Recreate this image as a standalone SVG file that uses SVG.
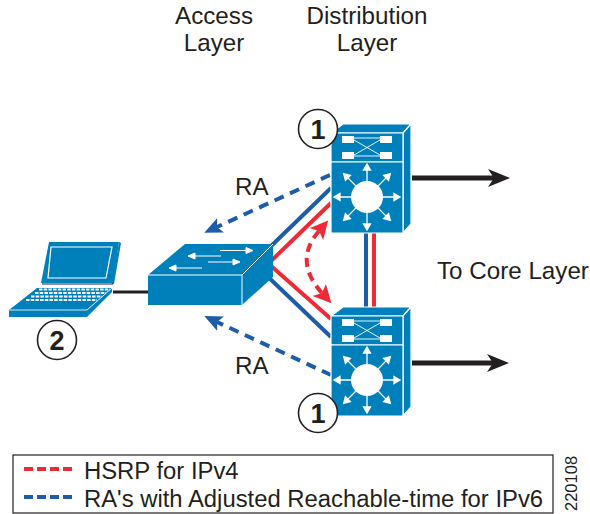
<svg xmlns="http://www.w3.org/2000/svg" xmlns:xlink="http://www.w3.org/1999/xlink" width="590" height="514" viewBox="0 0 590 514">
<style>
text{font-family:"Liberation Sans",Arial,sans-serif;fill:#231f20}
.t{font-size:24.2px}
.l{font-size:23.85px}
.m{text-anchor:middle}
.num{font-size:27px;font-weight:bold;text-anchor:middle}
.c{fill:#fff;stroke:#231f20;stroke-width:1.6}
.b{fill:#0080bb}
.e{stroke:#fff;stroke-width:1.2;stroke-linejoin:round}
.wf{fill:#fff}
.blue{stroke:#1f5ca8;stroke-width:4;fill:none}
.red{stroke:#ee2a36;stroke-width:4;fill:none}
.bd{stroke:#1f5ca8;stroke-width:4;fill:none;stroke-dasharray:10 7}
.rd{stroke:#ee2a36;stroke-width:4;fill:none;stroke-dasharray:9 6}
.k{stroke:#231f20;stroke-width:5;fill:none}
</style>
<defs>
<marker id="bh" markerUnits="userSpaceOnUse" markerWidth="20" markerHeight="18" refX="4" refY="8" orient="auto"><path d="M0 0L18 8L0 16L4 8Z" fill="#1f5ca8"/></marker>
<marker id="rh" markerUnits="userSpaceOnUse" markerWidth="20" markerHeight="20" refX="4" refY="9" orient="auto-start-reverse"><path d="M0 0L18 9L0 18L4 9Z" fill="#ee2a36"/></marker>
<marker id="kh" markerUnits="userSpaceOnUse" markerWidth="24" markerHeight="20" refX="6" refY="10" orient="auto"><path d="M0 1L22 10L0 19L6 10Z" fill="#231f20"/></marker>
<path id="sp" d="M16 0H27M27 -3.500L33 0L27 3.500Z" stroke="#fff" stroke-width="1.300" fill="#fff"/>
<g id="router">
<path class="b e" d="M0 9L12 0H80L72 9Z"/>
<path class="b e" d="M72 9L80 0V100L72 109Z"/>
<rect class="b e" x="0" y="9" width="72" height="29"/>
<rect class="b e" x="0" y="38" width="72" height="71"/>
<rect class="wf" x="11" y="12" width="12" height="7"/><rect class="wf" x="49" y="12" width="12" height="7"/>
<rect class="wf" x="11" y="28" width="12" height="7"/><rect class="wf" x="49" y="28" width="12" height="7"/>
<path d="M23 14H49M23 32H49M23 16L49 31M23 31L49 16" stroke="#fff" stroke-width="0.900" fill="none"/>
<g transform="translate(36,73)">
<circle r="16" class="wf"/>
<use xlink:href="#sp"/>
<use xlink:href="#sp" transform="rotate(45)"/>
<use xlink:href="#sp" transform="rotate(90)"/>
<use xlink:href="#sp" transform="rotate(135)"/>
<use xlink:href="#sp" transform="rotate(180)"/>
<use xlink:href="#sp" transform="rotate(225)"/>
<use xlink:href="#sp" transform="rotate(270)"/>
<use xlink:href="#sp" transform="rotate(315)"/>
</g>
</g>
</defs>
<g id="connectors">
<path d="M113 292H148" stroke="#231f20" stroke-width="3" fill="none"/>
<path class="blue" d="M268 249L331 188"/>
<path class="red" d="M270 262L331 203"/>
<path class="red" d="M270 265L331 319"/>
<path class="blue" d="M265 274L331 337"/>
<path class="blue" d="M366 233V308"/>
<path class="red" d="M374 233V308"/>
<path class="bd" d="M330 175L217 227" marker-end="url(#bh)"/>
<path class="bd" d="M331 375L217 322" marker-end="url(#bh)"/>
<path class="rd" d="M319 231Q293 261 322 293" marker-start="url(#rh)" marker-end="url(#rh)"/>
<path class="k" d="M412 178H494" marker-end="url(#kh)"/>
<path class="k" d="M412 363H493" marker-end="url(#kh)"/>
</g>
<g id="router-top" transform="translate(331,124)"><use xlink:href="#router"/></g>
<g id="router-bottom" transform="translate(331,307)"><use xlink:href="#router"/></g>
<g id="switch">
<path class="b" d="M148 275L185 244H273L242 275Z"/>
<path class="b" d="M242 275L273 244V277L242 305Z"/>
<rect class="b" x="148" y="275" width="94" height="30"/>
<path d="M148 275H242L273 244" stroke="#fff" stroke-width="1" fill="none"/>
<path d="M242 275V305" stroke="#fff" stroke-width="1" fill="none"/>
<g fill="#fff" stroke="#fff" stroke-width="1">
<path d="M220 250.500H246M246 247.500L253 250.500L246 253.500Z"/>
<path d="M195 256H221M195 253L188 256L195 259Z"/>
<path d="M208 262H233M233 259L240 262L233 265Z"/>
<path d="M176 268H202M176 265L169 268L176 271Z"/>
</g>
</g>
<g id="laptop">
<path d="M119 242L121 243L114 284L112 284Z" fill="#0080bb"/>
<path class="b" d="M49 242H119L113 283H41Z"/>
<path d="M51 247H112L106 278H48Z" fill="none" stroke="#fff" stroke-width="1.200"/>
<path d="M42 284H113" stroke="#231f20" stroke-width="1.200"/>
<path class="b" d="M37 288H112L87 310H9Z"/>
<path class="b" d="M87 310L112 288V292L87 317Z"/>
<rect class="b" x="9" y="310" width="78" height="7"/>
<path d="M9 310H87L112 288" stroke="#fff" stroke-width="0.800" fill="none"/>
<g stroke="#fff" stroke-width="2.200" fill="none" stroke-dasharray="3.500 1.200">
<path d="M39 289.500H110M35 293H106M31 296.500H102M26 300H97"/>
</g>
</g>
<g id="marker-1a"><circle class="c" cx="318" cy="129" r="19.500"/><text class="num" x="318" y="138.500">1</text></g>
<g id="marker-1b"><circle class="c" cx="318" cy="413" r="19.500"/><text class="num" x="318" y="422.500">1</text></g>
<g id="marker-2"><circle class="c" cx="57" cy="340" r="19.500"/><text class="num" x="57" y="349.500">2</text></g>
<g id="labels">
<text class="t m" x="214" y="24">Access</text>
<text class="t m" x="214" y="51">Layer</text>
<text class="t m" x="367" y="24">Distribution</text>
<text class="t m" x="367" y="51">Layer</text>
<text class="t" x="235" y="195">RA</text>
<text class="t" x="235" y="374">RA</text>
<text class="t" x="437" y="279">To Core Layer</text>
</g>
<g id="legend">
<rect x="13" y="455" width="540" height="58" fill="#fff" stroke="#231f20" stroke-width="1.200"/>
<path d="M24 469H72" stroke="#ee2a36" stroke-width="4" stroke-dasharray="9 4" fill="none"/>
<path d="M24 497H72" stroke="#1f5ca8" stroke-width="4" stroke-dasharray="9 4" fill="none"/>
<text class="l" x="84" y="479">HSRP for IPv4</text>
<text class="l" x="84" y="507">RA's with Adjusted Reachable-time for IPv6</text>
</g>
<text transform="translate(577,511) rotate(-90)" font-size="16.500">220108</text>
</svg>
